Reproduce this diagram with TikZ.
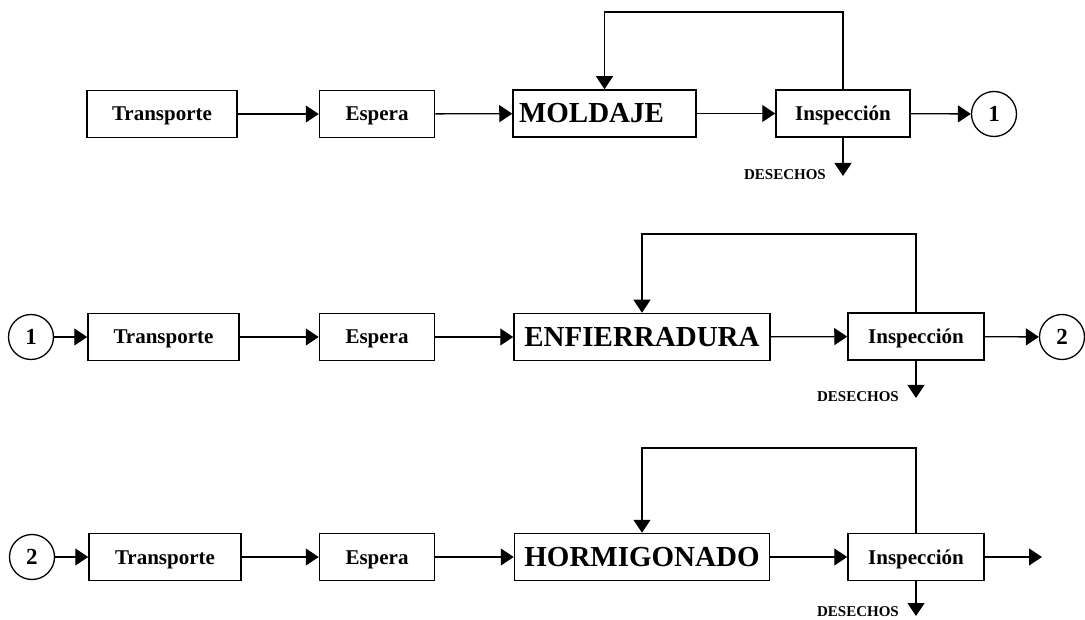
\documentclass[tikz,border=0pt]{standalone}
\usepackage{fontspec}
\setmainfont{Liberation Serif}
\usetikzlibrary{arrows.meta}
\begin{document}
\begin{tikzpicture}[x=1pt,y=-1pt,
  box/.style={draw, line width=1.5pt, minimum height=47pt, inner sep=0pt,
    text height=15pt, text depth=1pt,
    font=\bfseries\fontsize{21}{21}\selectfont},
  bigbox/.style={box, text height=21pt, text depth=2pt,
    font=\bfseries\fontsize{29}{29}\selectfont},
  numc/.style={draw, circle, line width=1.3pt, minimum size=45pt, inner sep=0pt,
    font=\bfseries\fontsize{23}{23}\selectfont},
  conn/.style={line width=1.3pt},
  arr/.style={conn, -{Triangle[length=13pt,width=17pt]}},
  waste/.style={font=\bfseries\fontsize{15}{15}\selectfont, inner sep=0pt, anchor=east}
]
\useasboundingbox (0,0) rectangle (1085,620);

% ---------- Row 1 ----------
\node[box, minimum width=150pt] (t1) at (162,114) {Transporte};
\node[box, minimum width=115pt] (e1) at (377,114) {Espera};
\node[bigbox, minimum width=183pt, text width=171pt, align=left] (m1) at (604.5,113.5) {MOLDAJE};
\node[box, minimum width=134pt] (i1) at (843,113.5) {Inspección};
\node[numc] (c1) at (994,114) {1};
\coordinate (top1) at (0,12);
\coordinate (d1) at (843,176);

\draw[arr] (t1) -- (e1);
\draw[arr] (e1) -- (m1);
\draw[arr] (m1) -- (i1);
\draw[arr] (i1) -- (c1);
\draw[arr] (i1.north) -- (i1.north |- top1) -| (m1.north);
\draw[arr] (i1.south) -- (d1);
\node[waste] (w1) at (826,175) {DESECHOS};

% ---------- Row 2 ----------
\node[numc] (c1b) at (31,337) {1};
\node[box, minimum width=151pt] (t2) at (163.5,337) {Transporte};
\node[box, minimum width=115pt] (e2) at (377,337) {Espera};
\node[bigbox, minimum width=256pt] (m2) at (642,337) {ENFIERRADURA};
\node[box, minimum width=136pt] (i2) at (916,336.5) {Inspección};
\node[numc] (c2) at (1062,337) {2};
\coordinate (top2) at (0,234);
\coordinate (d2) at (916,398);

\draw[arr] (c1b) -- (t2);
\draw[arr] (t2) -- (e2);
\draw[arr] (e2) -- (m2);
\draw[arr] (m2) -- (i2);
\draw[arr] (i2) -- (c2);
\draw[arr] (i2.north) -- (i2.north |- top2) -| (m2.north);
\draw[arr] (i2.south) -- (d2);
\node[waste] (w2) at (899,397) {DESECHOS};

% ---------- Row 3 ----------
\node[numc] (c2b) at (32,557) {2};
\node[box, minimum width=152pt] (t3) at (165,557) {Transporte};
\node[box, minimum width=115pt] (e3) at (377,557) {Espera};
\node[bigbox, minimum width=255pt] (m3) at (642,557) {HORMIGONADO};
\node[box, minimum width=136pt] (i3) at (916,557) {Inspección};
\coordinate (out3) at (1042,557);
\coordinate (top3) at (0,448);
\coordinate (d3) at (916,616);

\draw[arr] (c2b) -- (t3);
\draw[arr] (t3) -- (e3);
\draw[arr] (e3) -- (m3);
\draw[arr] (m3) -- (i3);
\draw[arr] (i3) -- (out3);
\draw[arr] (i3.north) -- (i3.north |- top3) -| (m3.north);
\draw[arr] (i3.south) -- (d3);
\node[waste] (w3) at (899,612) {DESECHOS};
\end{tikzpicture}
\end{document}
